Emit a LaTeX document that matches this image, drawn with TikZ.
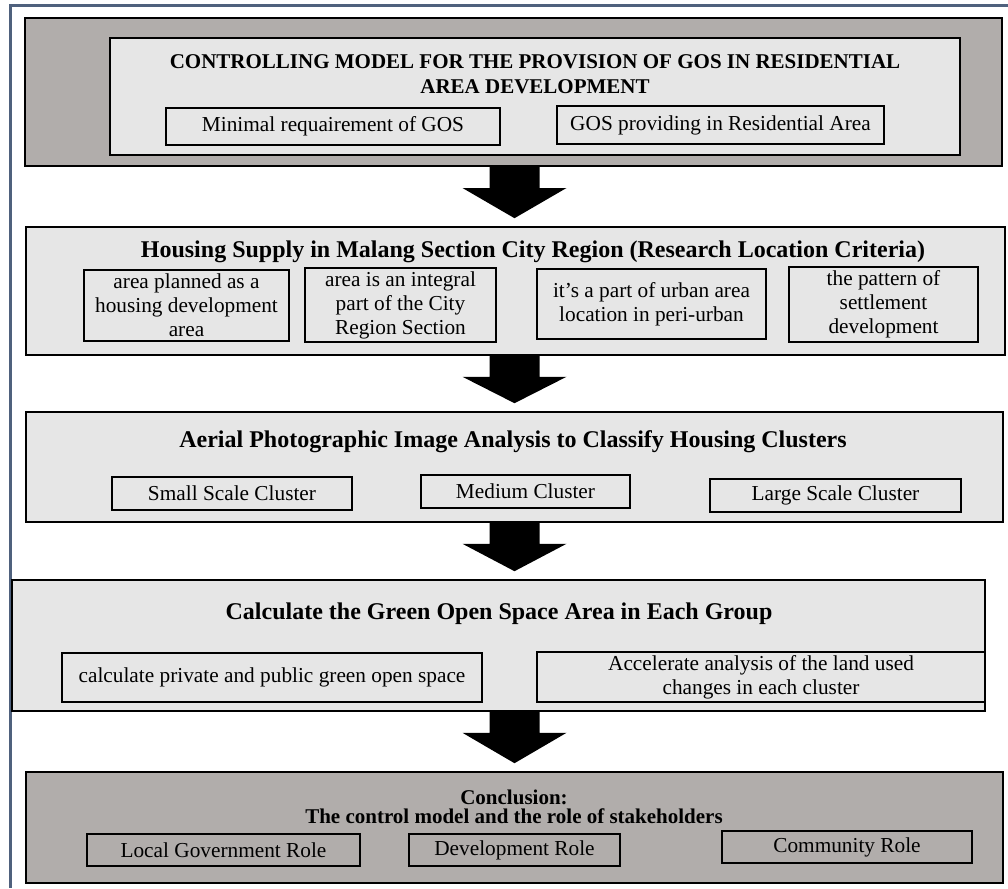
\documentclass[tikz,border=0pt]{standalone}
\usepackage{fontspec}
\setmainfont{Liberation Serif}
\usetikzlibrary{calc}
\definecolor{framecol}{RGB}{79,97,125}
\definecolor{darkfill}{RGB}{177,173,171}
\definecolor{lightfill}{RGB}{230,230,230}
% block arrow from the bottom of one panel to the top of the next
\newcommand{\flowarrow}[2]{%
  \fill[black] ($(#1.south -| axis)+(-25,0)$) -- ++(50,0) -- ++(0,21) -- ++(27,0)
    -- ($(#2.north -| axis)+(0,-8)$) -- ($(#1.south -| axis)+(-52,21)$)
    -- ($(#1.south -| axis)+(-25,21)$) -- cycle;}

\begin{document}
\begin{tikzpicture}[x=1pt,y=-1pt,
  panel/.style={draw=black, line width=1.6pt, rectangle, inner sep=0pt},
  item/.style={draw=black, line width=1.4pt, rectangle, inner sep=0pt, align=center,
    font=\fontsize{21.3}{24}\selectfont},
  heading/.style={inner sep=0pt, align=center, font=\fontsize{24}{27}\selectfont\bfseries}]
\useasboundingbox (0,0) rectangle (1008,888);
\draw[framecol, line width=3pt] (1008,6) -- (10,6) -- (10,888);
\coordinate (axis) at (514.5,0);

% controlling model
\node[panel, fill=darkfill, line width=2pt, minimum width=977, minimum height=148] (control) at (513.5,92) {};
\node[panel, fill=lightfill, line width=1.3pt, minimum width=850, minimum height=117] (controlin) at (535,96.5) {};
\node[heading, font=\fontsize{21}{25}\selectfont\bfseries] (controltitle) at (535,74)
  {CONTROLLING MODEL FOR THE PROVISION OF GOS IN RESIDENTIAL\\AREA DEVELOPMENT};
\node[item, minimum width=334, minimum height=37] (minreq) at (333,126.5) {Minimal requairement of GOS};
\node[item, minimum width=327, minimum height=38] (gosprov) at (720.5,125) {GOS providing in Residential Area};

% housing supply
\node[panel, fill=lightfill, minimum width=979, minimum height=128] (housing) at (515.5,291) {};
\node[heading] (housingtitle) at (533,252)
  {Housing Supply in Malang Section City Region (Research Location Criteria)};
\node[item, minimum width=205, minimum height=71] (planned) at (186.5,305.5) {area planned as a\\housing development\\area};
\node[item, minimum width=191, minimum height=74] (integral) at (400.5,305) {area is an integral\\part of the City\\Region Section};
\node[item, minimum width=229, minimum height=70] (periurban) at (651.5,304) {it’s a part of urban area\\location in peri-urban};
\node[item, minimum width=189, minimum height=75] (pattern) at (883.5,304.5) {the pattern of\\settlement\\development};

% aerial image analysis
\node[panel, fill=lightfill, minimum width=977, minimum height=110] (aerial) at (514.5,467) {};
\node[heading] (aerialtitle) at (513,442)
  {Aerial Photographic Image Analysis to Classify Housing Clusters};
\node[item, minimum width=240, minimum height=33] (small) at (232,493.5) {Small Scale Cluster};
\node[item, minimum width=209, minimum height=33] (medium) at (525.5,491.5) {Medium Cluster};
\node[item, minimum width=251, minimum height=33] (large) at (835.5,495.5) {Large Scale Cluster};

% green open space
\node[panel, fill=lightfill, minimum width=973, minimum height=131] (green) at (498.5,645.5) {};
\node[heading] (greentitle) at (499,614) {Calculate the Green Open Space Area in Each Group};
\node[item, minimum width=420, minimum height=49] (privpub) at (272,677.5) {calculate private and public green open space};
\node[item, minimum width=448, minimum height=50] (landuse) at (761,677) {Accelerate analysis of the land used\\changes in each cluster};

% conclusion
\node[panel, fill=darkfill, minimum width=977, minimum height=111] (concl) at (514.5,827.5) {};
\node[heading, font=\fontsize{21}{19}\selectfont\bfseries] (concltitle) at (514,807)
  {Conclusion:\\The control model and the role of stakeholders};
\node[item, minimum width=273, minimum height=32] (localgov) at (223.5,850) {Local Government Role};
\node[item, minimum width=211, minimum height=32] (devrole) at (514.5,850) {Development Role};
\node[item, minimum width=250, minimum height=32] (commrole) at (847,847) {Community Role};

\flowarrow{control}{housing}
\flowarrow{housing}{aerial}
\flowarrow{aerial}{green}
\flowarrow{green}{concl}
\end{tikzpicture}
\end{document}
